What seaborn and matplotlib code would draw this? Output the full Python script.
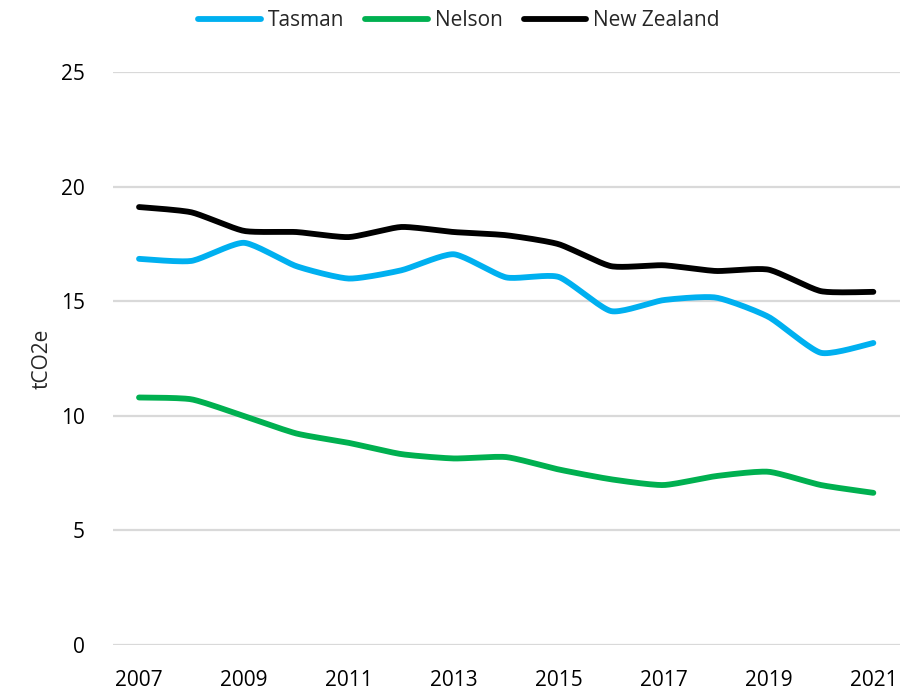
import numpy as np
import pandas as pd
import matplotlib
matplotlib.use("Agg")
import matplotlib.pyplot as plt
import seaborn as sns

years = list(range(2007, 2022))
tasman = [16.85, 16.76, 17.55, 16.53, 15.99, 16.35, 17.05, 16.04, 16.06,
          14.57, 15.05, 15.16, 14.32, 12.75, 13.18]
nelson = [10.80, 10.72, 9.99, 9.23, 8.82, 8.33, 8.14, 8.20, 7.66,
          7.23, 6.98, 7.37, 7.56, 6.98, 6.64]
new_zealand = [19.11, 18.88, 18.07, 18.02, 17.80, 18.24, 18.02, 17.88, 17.49,
               16.53, 16.57, 16.32, 16.38, 15.44, 15.41]

series = {"Tasman": tasman, "Nelson": nelson, "New Zealand": new_zealand}
palette = {"Tasman": "#00B0F0", "Nelson": "#00B050", "New Zealand": "#000000"}


def smooth_curve(x, y, steps=20):
    """Catmull-Rom rendering of the line (like a spreadsheet 'smoothed line')."""
    x = np.asarray(x, float)
    y = np.asarray(y, float)
    px = np.concatenate([[x[0]], x, [x[-1]]])
    py = np.concatenate([[y[0]], y, [y[-1]]])
    xs, ys = [], []
    for i in range(1, len(px) - 2):
        t = np.linspace(0, 1, steps, endpoint=False)
        for p, out in ((px, xs), (py, ys)):
            p0, p1, p2, p3 = p[i - 1], p[i], p[i + 1], p[i + 2]
            m1 = (p2 - p0) / 2 * 0.6
            m2 = (p3 - p1) / 2 * 0.6
            h00 = 2 * t**3 - 3 * t**2 + 1
            h10 = t**3 - 2 * t**2 + t
            h01 = -2 * t**3 + 3 * t**2
            h11 = t**3 - t**2
            out.extend(h00 * p1 + h10 * m1 + h01 * p2 + h11 * m2)
    xs.append(x[-1])
    ys.append(y[-1])
    return np.array(xs), np.array(ys)


frames = []
for name, vals in series.items():
    sx, sy = smooth_curve(years, vals)
    frames.append(pd.DataFrame({"year": sx, "value": sy, "series": name}))
df = pd.concat(frames, ignore_index=True)

sns.set_theme(style="white")
plt.rcParams["font.family"] = ["Open Sans", "DejaVu Sans"]

fig = plt.figure(figsize=(9.17, 6.97), dpi=100)
ax = fig.add_axes([0.123, 0.0746, 0.858, 0.822])

sns.lineplot(data=df, x="year", y="value", hue="series", palette=palette,
             linewidth=4.2, sort=False, estimator=None, ax=ax,
             solid_capstyle="round")

ax.set_xlim(2006.5, 2021.5)
ax.set_ylim(0, 25)
ax.set_xticks(years[::2])
ax.set_xticklabels([str(y) for y in years[::2]])
ax.set_yticks([0, 5, 10, 15, 20, 25])
ax.yaxis.grid(True, color="#d9d9d9", linewidth=1.6)
ax.set_axisbelow(True)
for s in ax.spines.values():
    s.set_visible(False)
ax.tick_params(axis="both", length=0, labelsize=15, colors="black")
ax.tick_params(axis="x", pad=18)
ax.tick_params(axis="y", pad=20)
ax.set_xlabel("")
ax.set_ylabel("tCO2e", fontsize=15, labelpad=6)

leg = ax.legend(loc="center", bbox_to_anchor=(0.44, 1.09), ncol=3,
                frameon=False, fontsize=15, handlelength=3.0,
                handletextpad=0.35, columnspacing=1.0)
for line in leg.get_lines():
    line.set_linewidth(4.2)

fig.savefig("out.png", dpi=100)
